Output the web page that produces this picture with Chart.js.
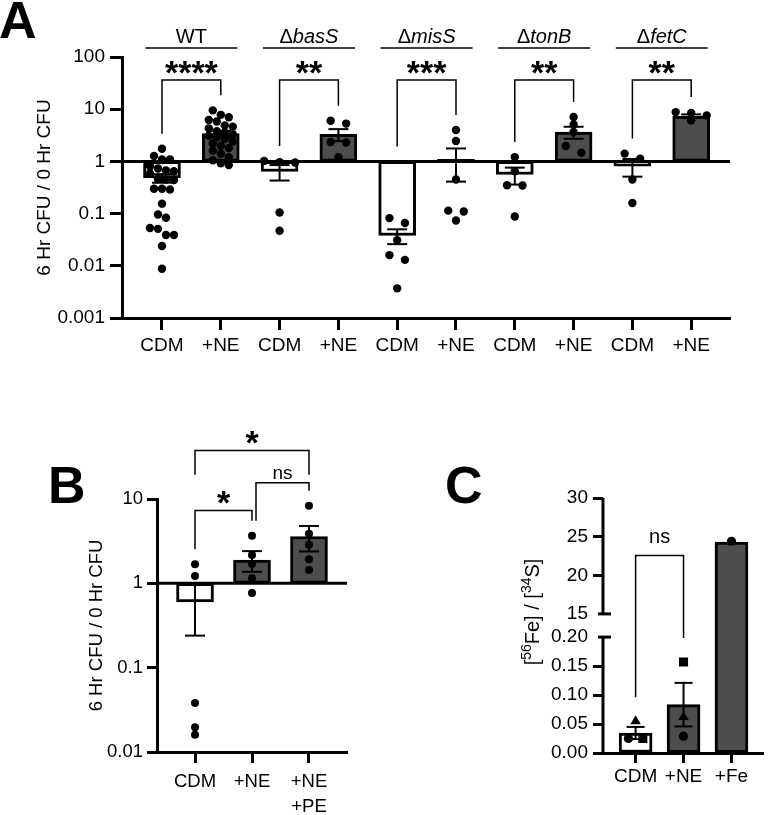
<!DOCTYPE html>
<html>
<head>
<meta charset="utf-8">
<title>CFU ratio and iron content</title>
<script src="https://cdn.jsdelivr.net/npm/chart.js@4.4.1/dist/chart.umd.min.js"></script>
<style>
  html, body { margin: 0; padding: 0; background: #fff; }
  #figure { position: relative; width: 770px; height: 815px; overflow: hidden; background: #fff; }
  #figure canvas { position: absolute; }
</style>
</head>
<body>
<div id="figure">
  <canvas id="chartA" width="770" height="360" style="left:0;top:0"></canvas>
  <canvas id="chartB" width="380" height="415" style="left:0;top:400px"></canvas>
  <canvas id="chartC" width="390" height="355" style="left:380px;top:460px"></canvas>
</div>
<script>
const FONT = "'Liberation Sans', Arial, Helvetica, sans-serif";
const DARK = '#4d4d4d';
Chart.defaults.font.family = FONT;
Chart.defaults.color = '#000';
Chart.defaults.animation = false;

// ---------- Panel A data ----------
const strainsA = ['WT', 'ΔbasS', 'ΔmisS', 'ΔtonB', 'ΔfetC'];
const mediaA = ['CDM', '+NE', 'CDM', '+NE', 'CDM', '+NE', 'CDM', '+NE', 'CDM', '+NE'];
const starsA = ['****', '**', '***', '**', '**'];
const yTicksA = [0.001, 0.01, 0.1, 1, 10, 100];
const yTickLabelsA = ['0.001', '0.01', '0.1', '1', '10', '100'];

const wtCdm = [1.75, 1.27, 1.09, 1.09, 0.81, 0.73, 0.67, 0.65, 0.59, 0.46, 0.45, 0.44,
  0.30, 0.30, 0.29, 0.155, 0.096, 0.083, 0.053, 0.051, 0.039, 0.039, 0.024, 0.0088];
const wtNe = [9.5, 7.8, 7.0, 6.2, 5.8, 4.9, 4.6, 4.3, 3.8, 3.6, 3.3, 3.1,
  2.9, 2.7, 2.4, 2.2, 2.0, 1.8, 1.6, 1.4, 1.2, 1.05, 0.92, 0.85];
const basCdm = [1.02, 0.97, 0.95, 0.105, 0.047];
const basNe = [6.0, 5.3, 2.35, 2.3, 1.2];
const misCdm = [0.082, 0.066, 0.031, 0.016, 0.013, 0.0037];
const misNe = [4.0, 2.46, 0.45, 0.114, 0.11, 0.074];
const tonCdm = [1.21, 0.65, 0.35, 0.345, 0.088];
const tonNe = [7.1, 5.1, 3.66, 1.97, 1.47];
const fetCdm = [1.41, 1.13, 0.45, 0.16];
const fetNe = [8.8, 8.5, 7.6, 6.1];
const pointsA = [wtCdm, wtNe, basCdm, basNe, misCdm, misNe, tonCdm, tonNe, fetCdm, fetNe];
const meanA = [0.48, 3.4, 0.64, 3.3, 0.038, 1.09, 0.56, 3.66, 0.81, 7.4];
const semA = [0.09, 0.45, 0.21, 0.85, 0.012, 0.68, 0.2, 0.95, 0.3, 0.55];

// ---------- Panel B data ----------
const mediaB = [['CDM'], ['+NE'], ['+NE', '+PE']];
const yTicksB = [0.01, 0.1, 1, 10];
const yTickLabelsB = ['0.01', '0.1', '1', '10'];
const cdmB = [1.68, 1.22, 0.038, 0.0196, 0.016];
const neB = [3.66, 2.17, 1.70, 1.15, 0.77];
const nePeB = [8.3, 3.86, 2.86, 1.93, 1.44];
const pointsB = [cdmB, neB, nePeB];
const meanB = [0.60, 1.89, 3.59];
const semB = [0.36, 0.52, 1.2];

// ---------- Panel C data ----------
const mediaC = ['CDM', '+NE', '+Fe'];
const yTicksC = [0, 0.05, 0.1, 0.15, 0.2, 15, 20, 25, 30];
const yTickLabelsC = ['0.00', '0.05', '0.10', '0.15', '0.20', '15', '20', '25', '30'];
const circleC = [0.025, 0.029, 24.4];
const squareC = [0.025, 0.157, null];
const triangleC = [0.055, 0.062, null];
const meanC = [0.0345, 0.0834, 24.3];
const semC = [0.0105, 0.0376, 0];

// broken y axis of panel C: 0-0.20 below, 15-30 above
const BREAK_LOW = 0.2, BREAK_HIGH = 15, BREAK_GAP = 0.04, UPPER_SCALE = 0.2 / 15;
const brk = (v) => (v <= BREAK_LOW ? v : BREAK_LOW + BREAK_GAP + (v - BREAK_HIGH) * UPPER_SCALE);

// ---------- helpers ----------
function axis(size, tickLength, padding, extra) {
  return Object.assign({
    offset: false,
    border: { display: true, width: 3, color: '#000' },
    grid: { display: true, offset: false, drawOnChartArea: false, drawTicks: true, tickLength, tickWidth: 3, tickColor: '#000' },
  }, extra, {
    ticks: Object.assign({ color: '#000', font: { size }, padding, autoSkip: false, maxRotation: 0, minRotation: 0 }, extra.ticks || {}),
  });
}

function line(ctx, x1, y1, x2, y2, w) {
  ctx.lineWidth = w;
  ctx.beginPath();
  ctx.moveTo(x1, y1);
  ctx.lineTo(x2, y2);
  ctx.stroke();
}

function drawBracket(ctx, xa, xb, top, legA, legB) {
  ctx.strokeStyle = '#000';
  ctx.lineWidth = 1.5;
  ctx.beginPath();
  ctx.moveTo(xa, legA);
  ctx.lineTo(xa, top);
  ctx.lineTo(xb, top);
  ctx.lineTo(xb, legB);
  ctx.stroke();
}

function drawErrorBars(chart, means, sems, cap, map = (v) => v) {
  const { ctx, scales: { x, y } } = chart;
  ctx.save();
  ctx.strokeStyle = '#000';
  means.forEach((m, i) => {
    if (!sems[i]) return;
    const px = x.getPixelForValue(i);
    const hi = y.getPixelForValue(map(m + sems[i]));
    const lo = y.getPixelForValue(map(m - sems[i]));
    line(ctx, px, hi, px, lo, 2);
    line(ctx, px - cap / 2, hi, px + cap / 2, hi, 2);
    line(ctx, px - cap / 2, lo, px + cap / 2, lo, 2);
  });
  ctx.restore();
}

function drawBaseline(chart, value) {
  const { ctx, chartArea, scales: { y } } = chart;
  ctx.save();
  ctx.strokeStyle = '#000';
  const py = y.getPixelForValue(value);
  line(ctx, chartArea.left, py, chartArea.right, py, 3);
  ctx.restore();
}

function columnTop(y, values, errTop, base) {
  const px = values.filter((v) => v != null).map((v) => y.getPixelForValue(v));
  return Math.min(...px, y.getPixelForValue(errTop), y.getPixelForValue(base));
}

function drawLetter(ctx, letter, x, y) {
  ctx.font = `bold 52px ${FONT}`;
  ctx.fillStyle = '#000';
  ctx.textAlign = 'left';
  ctx.textBaseline = 'alphabetic';
  ctx.fillText(letter, x, y);
}

function drawLabel(ctx, text, cx, baseline, font) {
  ctx.font = font;
  ctx.fillStyle = '#000';
  ctx.textAlign = 'center';
  ctx.textBaseline = 'alphabetic';
  ctx.fillText(text, cx, baseline);
}

// strain label: Greek delta upright, gene name in italics
function drawStrain(ctx, name, cx, baseline) {
  const plain = `20px ${FONT}`, italic = `italic 20px ${FONT}`;
  const isMutant = name.startsWith('Δ');
  const head = isMutant ? 'Δ' : name;
  const tail = isMutant ? name.slice(1) : '';
  ctx.font = plain;
  const wHead = ctx.measureText(head).width;
  ctx.font = italic;
  const wTail = ctx.measureText(tail).width;
  let x0 = cx - (wHead + wTail) / 2;
  ctx.textAlign = 'left';
  ctx.textBaseline = 'alphabetic';
  ctx.fillStyle = '#000';
  ctx.font = plain;
  ctx.fillText(head, x0, baseline);
  ctx.font = italic;
  ctx.fillText(tail, x0 + wHead, baseline);
}

// Prism-like column scatter: points at similar heights are laid out side by side
function swarm(chart, columns, opts) {
  const xs = chart.scales.x, ys = chart.scales.y;
  const unit = xs.getPixelForValue(1) - xs.getPixelForValue(0);
  const map = opts.map || ((v) => v);
  const out = [];
  columns.forEach((col, i) => {
    const items = col
      .map((p) => (typeof p === 'object' && p !== null ? p : { v: p }))
      .filter((p) => p.v != null)
      .map((p) => ({ ...p, py: ys.getPixelForValue(map(p.v)) }))
      .sort((a, b) => a.py - b.py);
    const step = opts.step(items.length) / unit;
    let row = [];
    const flush = () => {
      row.forEach((p, k) => out.push({ x: i + (k - (row.length - 1) / 2) * step, y: map(p.v), s: p.s }));
      row = [];
    };
    items.forEach((p) => {
      if (row.length && p.py - row[0].py > opts.gap) flush();
      row.push(p);
    });
    flush();
  });
  return out;
}

// ---------- Panel A ----------
const panelAPlugin = {
  id: 'panelA',
  afterDatasetDraw(chart, args) {
    if (args.index !== 0) return;
    drawBaseline(chart, 1);
    drawErrorBars(chart, meanA, semA, 20);
  },
  afterDraw(chart) {
    const { ctx, chartArea, scales: { x, y } } = chart;
    ctx.save();
    drawLetter(ctx, 'A', -1, 38);
    const bracketY = chartArea.top + 23;
    const headerY = chartArea.top - 9;
    strainsA.forEach((name, k) => {
      const a = 2 * k, b = 2 * k + 1;
      const xa = x.getPixelForValue(a), xb = x.getPixelForValue(b);
      const legA = columnTop(y, pointsA[a], meanA[a] + semA[a], 1) - 15;
      const legB = columnTop(y, pointsA[b], meanA[b] + semA[b], 1) - 15;
      drawBracket(ctx, xa, xb, bracketY, legA, legB);
      drawLabel(ctx, starsA[k], (xa + xb) / 2, bracketY + 4, `bold 34px ${FONT}`);
      const cx = (xa + xb) / 2;
      ctx.strokeStyle = '#000';
      line(ctx, cx - 46, headerY, cx + 46, headerY, 1.5);
      drawStrain(ctx, name, cx, headerY - 5);
    });
    ctx.restore();
  },
};

const chartA = new Chart(document.getElementById('chartA'), {
  type: 'bar',
  data: {
    datasets: [
      {
        type: 'bar', order: 1,
        data: meanA.map((m, i) => ({ x: i, y: [1, m] })),
        backgroundColor: mediaA.map((m) => (m === 'CDM' ? '#fff' : DARK)),
        borderColor: '#000', borderWidth: 3, borderSkipped: false, barThickness: 37,
      },
      {
        type: 'scatter', order: 0, data: [],
        pointRadius: 4.2, pointBackgroundColor: '#000', pointBorderWidth: 0, pointHoverRadius: 4.2,
      },
    ],
  },
  options: {
    responsive: false,
    layout: { padding: { left: 0, top: 57, right: 40, bottom: 0 } },
    scales: {
      x: axis(19, 12, 4.6, {
        type: 'linear', min: -0.68, max: 9.66,
        ticks: { callback: (v, i) => mediaA[i] },
        afterBuildTicks: (s) => { s.ticks = mediaA.map((_, i) => ({ value: i })); },
        afterFit: (s) => { s.height = 42; },
      }),
      y: axis(19, 12, 5, {
        type: 'logarithmic', min: 0.001, max: 100,
        ticks: { callback: (v, i) => yTickLabelsA[i] },
        afterBuildTicks: (s) => { s.ticks = yTicksA.map((v) => ({ value: v })); },
        afterFit: (s) => { s.width = 122; },
        title: { display: true, text: '6 Hr CFU / 0 Hr CFU', font: { size: 19 }, color: '#000', padding: { top: 33.6, bottom: 0 } },
      }),
    },
    plugins: { legend: { display: false }, tooltip: { enabled: false } },
  },
  plugins: [panelAPlugin],
});
chartA.data.datasets[1].data = swarm(chartA, pointsA, { step: (n) => (n > 10 ? 8 : 15.5), gap: 7 });
chartA.update();

// ---------- Panel B ----------
const panelBPlugin = {
  id: 'panelB',
  afterDatasetDraw(chart, args) {
    if (args.index !== 0) return;
    drawBaseline(chart, 1);
    drawErrorBars(chart, meanB, semB, 20);
  },
  afterDraw(chart) {
    const { ctx, chartArea, scales: { x, y } } = chart;
    ctx.save();
    drawLetter(ctx, 'B', 48, 103);
    const px = [0, 1, 2].map((i) => x.getPixelForValue(i));
    const leg = [0, 1, 2].map((i) => columnTop(y, pointsB[i], meanB[i] + semB[i], 1) - 15);
    // CDM vs +NE
    const y1 = chartArea.top + 11.4;
    drawBracket(ctx, px[0], px[1], y1, leg[0], leg[1]);
    drawLabel(ctx, '*', (px[0] + px[1]) / 2, y1 + 4, `bold 34px ${FONT}`);
    // +NE vs +NE +PE
    const y2 = chartArea.top - 16.3;
    drawBracket(ctx, px[1] + 4, px[2], y2, leg[1], leg[2]);
    drawLabel(ctx, 'ns', (px[1] + 4 + px[2]) / 2, y2 - 4, `19px ${FONT}`);
    // CDM vs +NE +PE
    const y3 = chartArea.top - 48.6;
    drawBracket(ctx, px[0], px[2], y3, chartArea.top - 24.3, chartArea.top - 24.3);
    drawLabel(ctx, '*', (px[0] + px[2]) / 2, y3 + 4, `bold 34px ${FONT}`);
    ctx.restore();
  },
};

const chartB = new Chart(document.getElementById('chartB'), {
  type: 'bar',
  data: {
    datasets: [
      {
        type: 'bar', order: 1,
        data: meanB.map((m, i) => ({ x: i, y: [1, m] })),
        backgroundColor: mediaB.map((m) => (m[0] === 'CDM' ? '#fff' : DARK)),
        borderColor: '#000', borderWidth: 3, borderSkipped: false, barThickness: 37,
      },
      {
        type: 'scatter', order: 0, data: [],
        pointRadius: 4, pointBackgroundColor: '#000', pointBorderWidth: 0, pointHoverRadius: 4,
      },
    ],
  },
  options: {
    responsive: false,
    layout: { padding: { left: 0, top: 99, right: 33, bottom: 0 } },
    scales: {
      x: axis(18.5, 11, 6.5, {
        type: 'linear', min: -0.667, max: 2.667,
        ticks: { callback: (v, i) => mediaB[i], font: { size: 18.5, lineHeight: 1.35 } },
        afterBuildTicks: (s) => { s.ticks = mediaB.map((_, i) => ({ value: i })); },
        afterFit: (s) => { s.height = 63; },
      }),
      y: axis(18.5, 10, 4, {
        type: 'logarithmic', min: 0.01, max: 10,
        ticks: { callback: (v, i) => yTickLabelsB[i] },
        afterBuildTicks: (s) => { s.ticks = yTicksB.map((v) => ({ value: v })); },
        afterFit: (s) => { s.width = 157; },
        title: { display: true, text: '6 Hr CFU / 0 Hr CFU', font: { size: 18.5 }, color: '#000', padding: { top: 86, bottom: 0 } },
      }),
    },
    plugins: { legend: { display: false }, tooltip: { enabled: false } },
  },
  plugins: [panelBPlugin],
});
chartB.data.datasets[1].data = swarm(chartB, pointsB, { step: () => 15.5, gap: 7 });
chartB.update();

// ---------- Panel C ----------
const markerSize = { circle: 4.6, rect: 6.4, triangle: 6 };

const panelCPlugin = {
  id: 'panelC',
  afterDatasetDraw(chart, args) {
    if (args.index !== 0) return;
    drawErrorBars(chart, meanC, semC, 18, brk);
  },
  afterDraw(chart) {
    const { ctx, chartArea, scales: { x, y } } = chart;
    ctx.save();
    drawLetter(ctx, 'C', 65, 43);
    ctx.strokeStyle = '#000';
    // broken y axis
    const ax = chartArea.left;
    const y0 = y.getPixelForValue(brk(0)), yLow = y.getPixelForValue(brk(BREAK_LOW));
    const yHigh = y.getPixelForValue(brk(BREAK_HIGH)), yTop = y.getPixelForValue(brk(30));
    line(ctx, ax, y0 + 1.5, ax, yLow, 3);
    line(ctx, ax, yHigh, ax, yTop, 3);
    line(ctx, ax - 5, yLow, ax + 8, yLow, 3);
    line(ctx, ax - 5, yHigh, ax + 8, yHigh, 3);
    // y title with isotope superscripts
    const parts = [{ t: '[' }, { t: '56', sup: true }, { t: 'Fe] / [' }, { t: '34', sup: true }, { t: 'S]' }];
    ctx.translate(153, 152);
    ctx.rotate(-Math.PI / 2);
    const widths = parts.map((p) => { ctx.font = `${p.sup ? 14 : 20}px ${FONT}`; return ctx.measureText(p.t).width; });
    let tx = -widths.reduce((a, b) => a + b, 0) / 2;
    ctx.fillStyle = '#000';
    ctx.textAlign = 'left';
    ctx.textBaseline = 'middle';
    parts.forEach((p, i) => {
      ctx.font = `${p.sup ? 14 : 20}px ${FONT}`;
      ctx.fillText(p.t, tx, p.sup ? -6 : 0);
      tx += widths[i];
    });
    ctx.setTransform(1, 0, 0, 1, 0, 0);
    // CDM vs +NE
    const xa = x.getPixelForValue(0), xb = x.getPixelForValue(1);
    const legA = y.getPixelForValue(brk(Math.max(circleC[0], squareC[0], triangleC[0]))) - 24;
    const legB = y.getPixelForValue(brk(Math.max(circleC[1], squareC[1], triangleC[1]))) - 24;
    const by = chartArea.top + 57.4;
    drawBracket(ctx, xa, xb, by, legA, legB);
    drawLabel(ctx, 'ns', (xa + xb) / 2, by - 12, `20px ${FONT}`);
    ctx.restore();
  },
};

const chartC = new Chart(document.getElementById('chartC'), {
  type: 'bar',
  data: {
    datasets: [
      {
        type: 'bar', order: 1,
        data: meanC.map((m, i) => ({ x: i, y: [0, brk(m)] })),
        backgroundColor: mediaC.map((m) => (m === 'CDM' ? '#fff' : DARK)),
        borderColor: '#000', borderWidth: 3, borderSkipped: false, barThickness: 33,
      },
      {
        type: 'scatter', order: 0, data: [],
        pointStyle: (c) => (c.raw && c.raw.s) || 'circle',
        pointRadius: (c) => markerSize[(c.raw && c.raw.s) || 'circle'],
        pointHoverRadius: (c) => markerSize[(c.raw && c.raw.s) || 'circle'],
        pointBackgroundColor: '#000', pointBorderWidth: 0,
      },
    ],
  },
  options: {
    responsive: false,
    layout: { padding: { left: 0, top: 38, right: 0, bottom: 0 } },
    scales: {
      x: axis(19, 10, 2.3, {
        type: 'linear', min: -0.68, max: 2.67,
        ticks: { callback: (v, i) => mediaC[i] },
        afterBuildTicks: (s) => { s.ticks = mediaC.map((_, i) => ({ value: i })); },
        afterFit: (s) => { s.height = 62; },
      }),
      y: axis(19, 10, 5, {
        type: 'linear', min: 0, max: brk(30),
        border: { display: false },
        grid: {
          display: true, offset: false, drawOnChartArea: false, drawTicks: true, tickLength: 10, tickWidth: 3,
          tickColor: (c) => (yTicksC[c.index] === BREAK_LOW || yTicksC[c.index] === BREAK_HIGH ? 'rgba(0,0,0,0)' : '#000'),
        },
        ticks: { callback: (v, i) => yTickLabelsC[i] },
        afterBuildTicks: (s) => { s.ticks = yTicksC.map((v) => ({ value: brk(v) })); },
        afterFit: (s) => { s.width = 223; },
      }),
    },
    plugins: { legend: { display: false }, tooltip: { enabled: false } },
  },
  plugins: [panelCPlugin],
});
const columnsC = mediaC.map((_, i) => [
  { v: circleC[i], s: 'circle' },
  { v: squareC[i], s: 'rect' },
  { v: triangleC[i], s: 'triangle' },
]);
chartC.data.datasets[1].data = swarm(chartC, columnsC, { step: () => 15, gap: 12, map: brk });
chartC.update();
</script>
</body>
</html>
